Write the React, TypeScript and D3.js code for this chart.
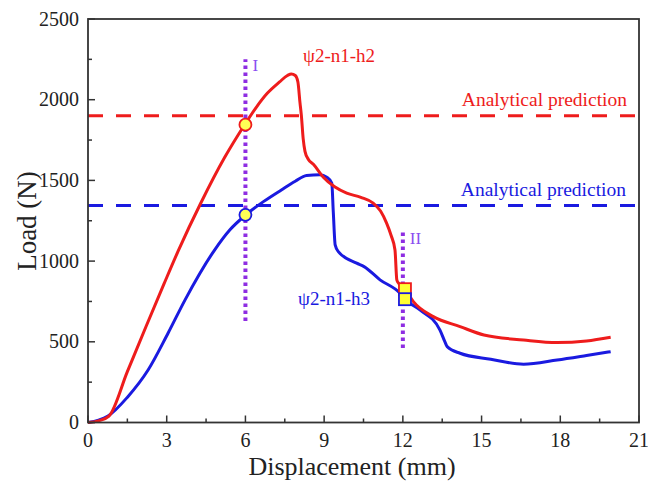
import React from "react";
import * as d3 from "d3";

const h2X = [0, 0.4, 0.8, 1.5, 2.2, 2.9, 3.43, 4.3, 5.2, 5.97, 6.4, 6.84, 7.3, 7.6, 7.75, 7.9, 8.0, 8.08, 8.13, 8.2, 8.27, 8.4, 8.59, 8.97, 9.4, 9.86, 10.4, 10.87, 11.15, 11.38, 11.55, 11.7, 11.77, 11.85, 12.08, 12.4, 13.16, 14.18, 15.09, 16.6, 17.88, 19.0, 19.92];
const h2Y = [0, 10, 40, 315, 590, 860, 1060, 1360, 1640, 1845, 1950, 2041, 2110, 2150, 2160, 2150, 2110, 1980, 1906, 1760, 1680, 1630, 1600, 1520, 1460, 1421, 1395, 1359, 1310, 1235, 1160, 1069, 884, 860, 826, 749, 656, 594, 542, 511, 495, 505, 528];

const h3X = [0, 0.4, 0.76, 1.52, 2.29, 3.05, 3.7, 4.83, 5.41, 6.02, 6.7, 7.37, 7.9, 8.33, 8.84, 9.1, 9.29, 9.35, 9.42, 9.54, 10.24, 10.52, 11.13, 11.89, 12.08, 12.65, 13.41, 13.6, 13.69, 14.18, 15.35, 16.6, 17.88, 19.0, 19.92];
const h3Y = [0, 15, 40, 160, 325, 553, 760, 1070, 1194, 1287, 1370, 1441, 1495, 1530, 1535, 1520, 1483, 1300, 1100, 1059, 987, 966, 884, 801, 764, 698, 574, 501, 470, 429, 392, 361, 387, 415, 439];

const predH2 = 1900;
const predH3 = 1345;

const xTicks = [0, 3, 6, 9, 12, 15, 18, 21];
const yTicks = [0, 500, 1000, 1500, 2000, 2500];
const xMinor = [1.5, 4.5, 7.5, 10.5, 13.5, 16.5, 19.5];
const yMinor = [250, 750, 1250, 1750, 2250];

const circlePts = [
  { x: 6, y: 1845, c: "#ee1c1c" },
  { x: 6, y: 1287, c: "#1a1ae0" },
];
const squarePts = [
  { x: 12.08, y: 826, c: "#ee1c1c" },
  { x: 12.08, y: 764, c: "#1a1ae0" },
];
const stageLines = [
  { x: 6, y0: 629, y1: 2250, label: "I" },
  { x: 12, y0: 462, y1: 1180, label: "II" },
];

const RED = "#ee1c1c";
const BLUE = "#1a1ae0";
const PURPLE = "#8e2de2";
const FONT = '"Liberation Serif", "Times New Roman", Times, "DejaVu Serif", serif';

export default function App() {
  const x = d3.scaleLinear().domain([0, 21]).range([88, 639]);
  const y = d3.scaleLinear().domain([0, 2500]).range([422.5, 19]);
  const mk = (xs: number[], ys: number[]) =>
    d3
      .line<number>()
      .x((_, i) => x(xs[i]))
      .y((_, i) => y(ys[i]))
      .curve(d3.curveMonotoneX)(xs) as string;

  return (
    <svg
      width={648}
      height={485}
      style={{ position: "absolute", left: 0, top: 0, background: "#fff", fontFamily: FONT }}
    >
      {/* analytical predictions */}
      <line x1={x(0)} x2={x(21)} y1={y(predH2)} y2={y(predH2)} stroke={RED} strokeWidth={3} strokeDasharray="15 13" />
      <line x1={x(0)} x2={x(21)} y1={y(predH3)} y2={y(predH3)} stroke={BLUE} strokeWidth={3} strokeDasharray="15 13" />

      {/* curves */}
      <path d={mk(h3X, h3Y)} fill="none" stroke={BLUE} strokeWidth={3} strokeLinejoin="round" />
      <path d={mk(h2X, h2Y)} fill="none" stroke={RED} strokeWidth={3} strokeLinejoin="round" />

      {/* stage lines */}
      {stageLines.map((s, i) => (
        <g key={i}>
          <line x1={x(s.x)} x2={x(s.x)} y1={y(s.y0)} y2={y(s.y1)} stroke={PURPLE} strokeWidth={4} strokeDasharray="3.5 3.5" />
          <text x={x(s.x) + 7} y={y(s.y1) + 12} fontSize={17} fill="#8a4cf0" style={{ fontFamily: FONT }}>{s.label}</text>
        </g>
      ))}

      {/* markers */}
      {circlePts.map((p, i) => (
        <circle key={i} cx={x(p.x)} cy={y(p.y)} r={6} fill="#ffff55" stroke={p.c} strokeWidth={1.8} />
      ))}
      {squarePts.map((p, i) => (
        <rect key={i} x={x(p.x) - 6} y={y(p.y) - 6} width={12} height={12} fill="#ffff33" stroke={p.c} strokeWidth={1.8} />
      ))}

      {/* labels */}
      <text x={303} y={62} fontSize={19} fill={RED} style={{ fontFamily: FONT }}>ψ2-n1-h2</text>
      <text x={298} y={305} fontSize={19} fill={BLUE} style={{ fontFamily: FONT }}>ψ2-n1-h3</text>
      <text x={627} y={106} fontSize={19.5} fill={RED} textAnchor="end" style={{ fontFamily: FONT }}>Analytical prediction</text>
      <text x={626} y={196} fontSize={19.5} fill={BLUE} textAnchor="end" style={{ fontFamily: FONT }}>Analytical prediction</text>

      {/* frame */}
      <rect x={x(0)} y={y(2500)} width={x(21) - x(0)} height={y(0) - y(2500)} fill="none" stroke="#333" strokeWidth={1.8} />

      {/* ticks */}
      {xTicks.map((t) => (
        <g key={"x" + t}>
          <line x1={x(t)} x2={x(t)} y1={y(0)} y2={y(0) - 7} stroke="#333" strokeWidth={1.5} />
          <text x={x(t)} y={447} fontSize={20} textAnchor="middle" fill="#222" style={{ fontFamily: FONT }}>{t}</text>
        </g>
      ))}
      {xMinor.map((t) => (
        <line key={"xm" + t} x1={x(t)} x2={x(t)} y1={y(0)} y2={y(0) - 4} stroke="#333" strokeWidth={1.5} />
      ))}
      {yTicks.map((t) => (
        <g key={"y" + t}>
          <line x1={x(0)} x2={x(0) + 7} y1={y(t)} y2={y(t)} stroke="#333" strokeWidth={1.5} />
          <text x={79} y={y(t) + 6.5} fontSize={20} textAnchor="end" fill="#222" style={{ fontFamily: FONT }}>{t}</text>
        </g>
      ))}
      {yMinor.map((t) => (
        <line key={"ym" + t} x1={x(0)} x2={x(0) + 4} y1={y(t)} y2={y(t)} stroke="#333" strokeWidth={1.5} />
      ))}

      {/* axis titles */}
      <text x={352} y={475} fontSize={26} textAnchor="middle" fill="#222" style={{ fontFamily: FONT }}>Displacement (mm)</text>
      <text transform="translate(36,221) rotate(-90)" fontSize={27} textAnchor="middle" fill="#222" style={{ fontFamily: FONT }}>Load (N)</text>
    </svg>
  );
}
